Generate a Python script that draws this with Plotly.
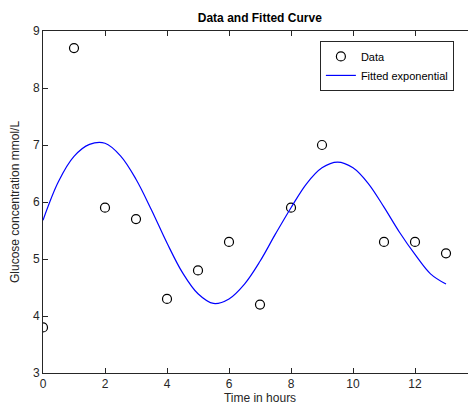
import plotly.graph_objects as go

# Measured glucose data
hours = [0, 1, 2, 3, 4, 5, 6, 7, 8, 9, 10, 11, 12, 13]
glucose = [3.8, 8.7, 5.9, 5.7, 4.3, 4.8, 5.3, 4.2, 5.9, 7.0, 8.1, 5.3, 5.3, 5.1]

# Fitted curve
fit_t = [0, 0.5, 1.0, 1.5, 2.0, 2.5, 3.0, 3.5, 4.0, 4.5, 5.0, 5.5, 6.0, 6.5,
         7.0, 7.5, 8.0, 8.5, 9.0, 9.5, 10.0, 10.5, 11.0, 11.5, 12.0, 12.5, 13.0]
fit_y = [5.68, 6.36, 6.80, 7.01, 7.03, 6.81, 6.40, 5.86, 5.28, 4.76, 4.39, 4.22,
         4.30, 4.56, 4.96, 5.44, 5.90, 6.32, 6.60, 6.70, 6.60, 6.32, 5.91, 5.47,
         5.08, 4.74, 4.56]

font = "Arial, Liberation Sans, Helvetica, sans-serif"
axcol = "#262626"

fig = go.Figure()
fig.add_trace(go.Scatter(x=hours, y=glucose, mode="markers", name="Data",
                         marker=dict(symbol="circle-open", size=9,
                                     color="black", line=dict(width=1.2))))
fig.add_trace(go.Scatter(x=fit_t, y=fit_y, mode="lines", name="Fitted exponential",
                         line=dict(color="#0000ff", width=1.2, shape="spline")))

axis = dict(showgrid=False, zeroline=False, showline=True, linecolor=axcol,
            linewidth=1, mirror="ticks", ticks="inside", ticklen=5,
            tickcolor=axcol, automargin=False,
            tickfont=dict(size=12, color=axcol, family=font))

# the page body adds an 8px offset, margins are set to compensate
fig.update_layout(
    width=476, height=414,
    margin=dict(l=35, r=7, t=23, b=49),
    paper_bgcolor="white", plot_bgcolor="white",
    font=dict(family=font, color=axcol),
    title=dict(text="<b>Data and Fitted Curve</b>", x=0.529, xanchor="center",
               y=0.976, yanchor="middle", font=dict(size=12, color="black")),
    xaxis=dict(axis, range=[0, 14], dtick=2,
               title=dict(text="Time in hours", standoff=2,
                          font=dict(size=12, color=axcol))),
    yaxis=dict(axis, range=[3, 9], dtick=1,
               title=dict(text="Glucose concentration mmol/L", standoff=13,
                          font=dict(size=12, color=axcol))),
    legend=dict(x=0.638, y=0.971, xanchor="left", yanchor="top",
                bgcolor="white", bordercolor=axcol, borderwidth=1,
                font=dict(size=11, color="black"), tracegroupgap=0,
                itemwidth=30),
    showlegend=True,
)

fig.write_html("out.html")
